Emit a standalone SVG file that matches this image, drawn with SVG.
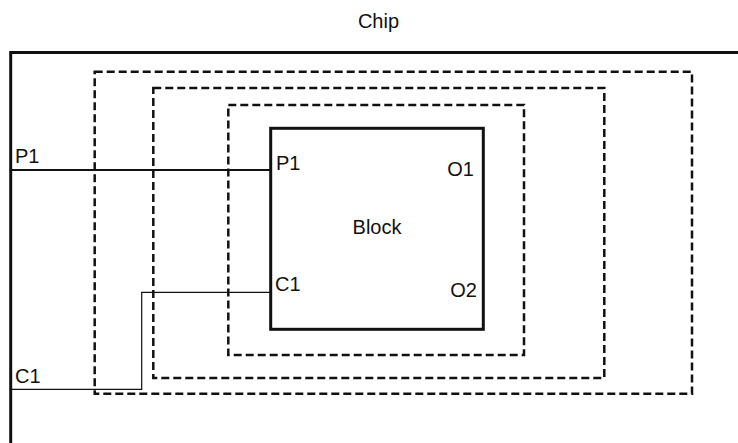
<svg xmlns="http://www.w3.org/2000/svg" width="738" height="443" viewBox="0 0 738 443">
<style>
text{font-family:"Liberation Sans",Arial,sans-serif;font-size:20px;fill:#111}
.dash{fill:none;stroke:#111;stroke-width:2.5;stroke-dasharray:8,4}
.thick{fill:none;stroke:#111;stroke-width:3}
.wire{fill:none;stroke:#111}
</style>
<rect width="738" height="443" fill="#fff"/>
<g id="chip">
<path class="thick" d="M738 52.5H10.7V443"/>
<text x="378.5" y="28" text-anchor="middle">Chip</text>
<text x="15" y="163">P1</text>
<text x="15" y="383">C1</text>
</g>
<g id="region-outer"><rect class="dash" x="94.7" y="71.7" width="597.3" height="322"/></g>
<g id="region-middle"><rect class="dash" x="153.3" y="87.9" width="451" height="290"/></g>
<g id="region-inner"><rect class="dash" x="228.3" y="105" width="295.7" height="250"/></g>
<g id="block">
<rect class="thick" x="270.7" y="128.3" width="212.6" height="201"/>
<text x="377" y="234" text-anchor="middle">Block</text>
<text x="276" y="170">P1</text>
<text x="275" y="291">C1</text>
<text x="474" y="176" text-anchor="end">O1</text>
<text x="477" y="297" text-anchor="end">O2</text>
</g>
<g id="connectors">
<path class="wire" stroke-width="1.8" d="M10.7 170H270.7"/>
<path class="wire" stroke-width="1.2" d="M10.7 389.3H141.7V292.3H270.7"/>
</g>
</svg>
